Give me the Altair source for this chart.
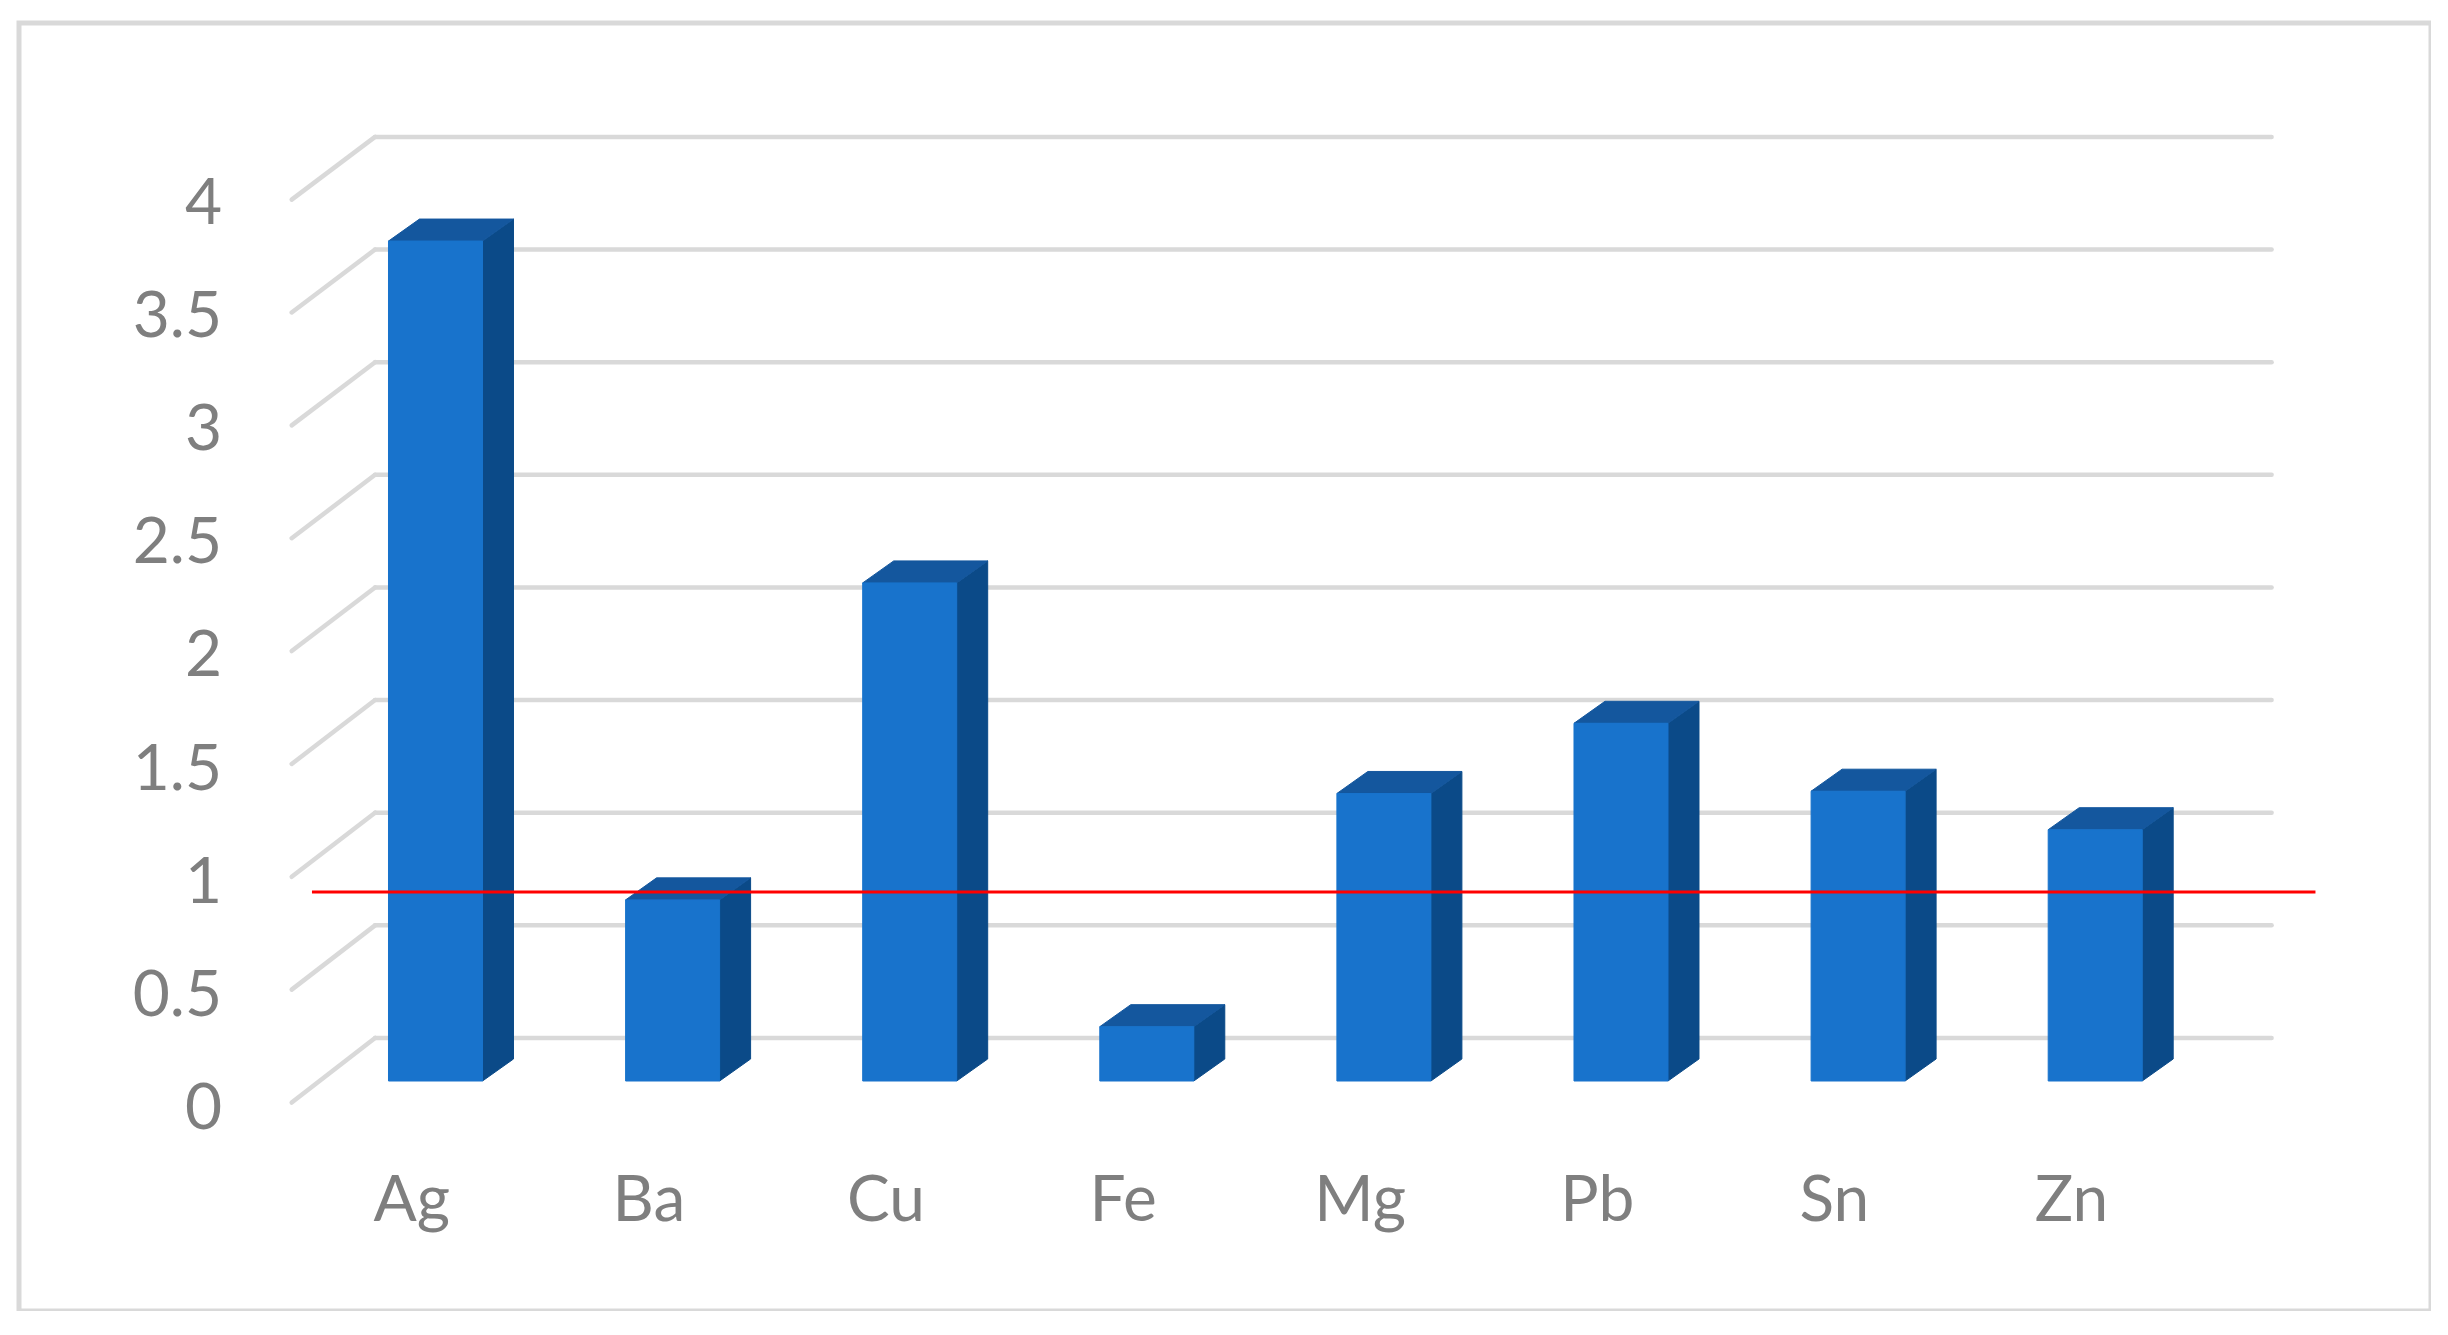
import altair as alt
import pandas as pd

# ---- data ----
elements = ["Ag", "Ba", "Cu", "Fe", "Mg", "Pb", "Sn", "Zn"]
values = [3.71, 0.80, 2.20, 0.24, 1.27, 1.58, 1.28, 1.11]
reference_level = 0.835
tick_values = [0, 0.5, 1, 1.5, 2, 2.5, 3, 3.5, 4]
tick_labels = ["0", "0.5", "1", "1.5", "2", "2.5", "3", "3.5", "4"]

# ---- 3-D look (styling geometry, in scale units) ----
BAR_W = 0.3965          # front-face width (category units)
DEPTH_X = 0.1307        # bar depth projected on x (category units)
DEPTH_Y = 0.0972        # bar depth projected on y (value units)
WALL_X0, WALL_X1 = -0.255, 7.744
WALL_OFF, WALL_K = 0.19, 0.995
FRONT_X, FRONT_OFF, FRONT_K = -0.6065, -0.095, 0.997
RED_X0, RED_X1 = -0.521, 7.929
YLAB_X, YLAB_OFF = -0.90, -0.213
XLAB_SHIFT, XLAB_Y = -0.10, -0.618

# plot area (pixels)
PW, PH = 2412, 1288
X0_PX, Y0_PX = 416.5, 1058.0     # where category 0 / value 0 fall
SLOT_PX, UNIT_PX = 237.1, 226.4
x_dom = [-X0_PX / SLOT_PX, (PW - X0_PX) / SLOT_PX]
y_dom = [-(PH - Y0_PX) / UNIT_PX, Y0_PX / UNIT_PX]

xs = alt.Scale(domain=x_dom, nice=False, zero=False)
ys = alt.Scale(domain=y_dom, nice=False, zero=False)

FRONT = "#1873cc"
SIDE = "#0b4a88"
TOP = "#14579e"
GRID = "#d9d9d9"
LABEL = "#7f7f7f"
FONT = "Lato"

# ---- tables ----
front = pd.DataFrame({
    "cat": elements,
    "x": [i - BAR_W / 2 for i in range(len(elements))],
    "x2": [i + BAR_W / 2 for i in range(len(elements))],
    "y": [0.0] * len(elements),
    "y2": values,
})

side_rows, top_rows = [], []
for i, (c, v) in enumerate(zip(elements, values)):
    xr = i + BAR_W / 2
    side_rows.append({"cat": c, "x": xr, "y": 0.0, "y2": v})
    side_rows.append({"cat": c, "x": xr + DEPTH_X, "y": DEPTH_Y, "y2": v + DEPTH_Y})
    top_rows.append({"cat": c, "y": v, "x": i - BAR_W / 2, "x2": i + BAR_W / 2})
    top_rows.append({"cat": c, "y": v + DEPTH_Y,
                     "x": i - BAR_W / 2 + DEPTH_X, "x2": i + BAR_W / 2 + DEPTH_X})
side = pd.DataFrame(side_rows)
top = pd.DataFrame(top_rows)

wall = pd.DataFrame({
    "x": [WALL_X0] * len(tick_values),
    "x2": [WALL_X1] * len(tick_values),
    "y": [t * WALL_K + WALL_OFF for t in tick_values],
    "y2": [t * WALL_K + WALL_OFF for t in tick_values],
})
diag = pd.DataFrame({
    "x": [FRONT_X] * len(tick_values),
    "x2": [WALL_X0] * len(tick_values),
    "y": [t * FRONT_K + FRONT_OFF for t in tick_values],
    "y2": [t * WALL_K + WALL_OFF for t in tick_values],
})
red = pd.DataFrame({"x": [RED_X0], "x2": [RED_X1],
                    "y": [reference_level], "y2": [reference_level]})
ylab = pd.DataFrame({
    "x": [YLAB_X] * len(tick_values),
    "y": [t + YLAB_OFF for t in tick_values],
    "t": tick_labels,
})
xlab = pd.DataFrame({
    "x": [i + XLAB_SHIFT for i in range(len(elements))],
    "y": [XLAB_Y] * len(elements),
    "t": elements,
})

X = lambda f="x", **kw: alt.X(f"{f}:Q", scale=xs, axis=None, **kw)
Y = lambda f="y", **kw: alt.Y(f"{f}:Q", scale=ys, axis=None, **kw)

wall_l = alt.Chart(wall).mark_rule(color=GRID, strokeWidth=4.5, strokeCap="round").encode(
    x=X(), x2="x2:Q", y=Y(), y2="y2:Q")
diag_l = alt.Chart(diag).mark_rule(color=GRID, strokeWidth=4.5, strokeCap="round").encode(
    x=X(), x2="x2:Q", y=Y(), y2="y2:Q")

side_l = alt.Chart(side).mark_area(color=SIDE, stroke=SIDE, strokeWidth=1,
                                   orient="vertical").encode(
    x=X(), y=Y(stack=False), y2="y2:Q", detail="cat:N")
top_l = alt.Chart(top).mark_area(color=TOP, stroke=TOP, strokeWidth=1,
                                 orient="horizontal").encode(
    y=Y(), x=X(stack=False), x2="x2:Q", detail="cat:N")
front_l = alt.Chart(front).mark_rect(color=FRONT, stroke=FRONT, strokeWidth=1).encode(
    x=X(), x2="x2:Q", y=Y(), y2="y2:Q")

red_l = alt.Chart(red).mark_rule(color="#ff0000", strokeWidth=3).encode(
    x=X(), x2="x2:Q", y=Y(), y2="y2:Q")

ylab_l = alt.Chart(ylab).mark_text(align="right", baseline="alphabetic", font=FONT,
                                   fontSize=64, color=LABEL).encode(
    x=X(), y=Y(), text="t:N")
xlab_l = alt.Chart(xlab).mark_text(align="center", baseline="alphabetic", font=FONT,
                                   fontSize=64, color=LABEL).encode(
    x=X(), y=Y(), text="t:N")

chart = alt.layer(wall_l, diag_l, side_l, top_l, front_l, red_l, ylab_l, xlab_l).properties(
    width=PW, height=PH,
    autosize="none",
    padding={"left": 11, "top": 15, "right": 0, "bottom": 0},
    background="white",
).configure_view(stroke=GRID, strokeWidth=5)

chart.save("out.html", embed_options={"renderer": "svg", "actions": False})
